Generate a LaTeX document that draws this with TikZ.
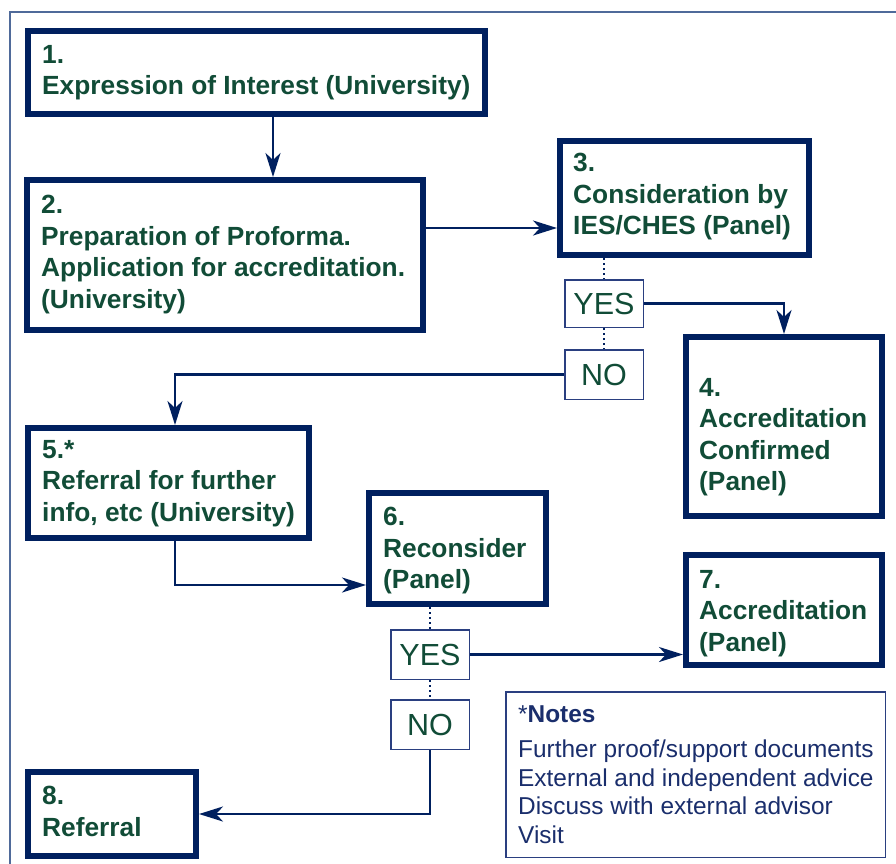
\documentclass[tikz,border=0pt]{standalone}
\usepackage{fontspec}
\setmainfont{Liberation Sans}
\usetikzlibrary{arrows.meta}
\definecolor{navy}{HTML}{00205F}
\definecolor{thinblue}{HTML}{2A3F80}
\definecolor{txtgreen}{HTML}{114C37}
\definecolor{notesblue}{HTML}{1A2E6C}
\definecolor{framecol}{HTML}{4F6A9A}
\begin{document}
\begin{tikzpicture}[x=1pt,y=-1pt,
  bigbox/.style={draw=navy, line width=6pt, rectangle, inner sep=0pt, anchor=north west},
  yn/.style={draw=thinblue, line width=1.5pt, rectangle, inner sep=0pt, anchor=north west,
    minimum width=78.5pt, minimum height=49.5pt, text=txtgreen, font=\fontsize{30.5}{36}\selectfont},
  boxtext/.style={anchor=north west, inner sep=0pt, align=left, text=txtgreen,
    font=\fontsize{26.3}{31.5}\selectfont\bfseries},
  arr/.style={draw=navy, line width=2.5pt, -{Stealth[length=24pt,width=15pt,inset=7pt]}},
  dotline/.style={draw=navy, line width=2pt, dash pattern=on 2pt off 3pt},
  notesbox/.style={draw=thinblue, line width=1.5pt, rectangle, inner sep=0pt, anchor=north west},
  notestext/.style={anchor=north west, inner sep=0pt, align=left, text=notesblue,
    font=\fontsize{24.4}{28.5}\selectfont}]
\useasboundingbox (0,0) rectangle (896,863);
\fill[white] (0,0) rectangle (896,863);
% outer frame
\draw[framecol, line width=1.5pt] (10,870) -- (10,12) -- (900,12);
% boxes
\node[bigbox, minimum width=457pt, minimum height=83pt] (b1) at (25,28) {};
\node[bigbox, minimum width=396pt, minimum height=150pt] (b2) at (24,177) {};
\node[bigbox, minimum width=249pt, minimum height=114pt] (b3) at (557,138) {};
\node[bigbox, minimum width=196pt, minimum height=179pt] (b4) at (683,334) {};
\node[bigbox, minimum width=281pt, minimum height=110pt] (b5) at (25,425) {};
\node[bigbox, minimum width=177pt, minimum height=111pt] (b6) at (366,490) {};
\node[bigbox, minimum width=196pt, minimum height=110pt] (b7) at (683,552) {};
\node[bigbox, minimum width=168pt, minimum height=84pt] (b8) at (25,769) {};
% box texts
\node[boxtext] (t1) at (42,45) {1.\\Expression of Interest (University)};
\node[boxtext] (t2) at (41,195) {2.\\Preparation of Proforma.\\Application for accreditation.\\(University)};
\node[boxtext] (t3) at (573,153) {3.\\Consideration by\\IES/CHES (Panel)};
\node[boxtext] (t4) at (699,378) {4.\\Accreditation\\Confirmed\\(Panel)};
\node[boxtext] (t5) at (42,440) {5.*\\Referral for further\\info, etc (University)};
\node[boxtext] (t6) at (383,507) {6.\\Reconsider\\(Panel)};
\node[boxtext] (t7) at (699,570) {7.\\Accreditation\\(Panel)};
\node[boxtext] (t8) at (42,786) {8.\\Referral};
% yes/no boxes
\node[yn, minimum height=47.5pt] (yes1) at (564,279) {YES};
\node[yn] (no1) at (564,349) {NO};
\node[yn] (yes2) at (390,629) {YES};
\node[yn] (no2) at (390,699) {NO};
% notes
\node[notesbox, minimum width=379.5pt, minimum height=165.5pt] (notes) at (505,691) {};
\node[notestext] (nt) at (518,705) {*\textbf{Notes}};
\node[notestext] (nb) at (518,740) {Further proof/support documents\\External and independent advice\\Discuss with external advisor\\Visit};
% helper coordinates
\coordinate (c273) at (273,0);
\coordinate (c228) at (0,228);
\coordinate (c175) at (175,0);
\coordinate (c585) at (0,585);
% connectors
\draw[arr] (b1.south -| c273) -- (b2.north -| c273);
\draw[arr] (b2.east |- c228) -- (b3.west |- c228);
\draw[dotline] (b3.south -| yes1.north) -- (yes1.north);
\draw[dotline] (yes1.south) -- (no1.north);
\draw[arr] (yes1.east) -| (b4.north);
\draw[arr] (no1.west) -| (b5.north -| c175);
\draw[arr] (b5.south -| c175) |- (b6.west |- c585);
\draw[dotline] (b6.south -| yes2.north) -- (yes2.north);
\draw[dotline] (yes2.south) -- (no2.north);
\draw[arr] (yes2.east) -- (yes2.east -| b7.west);
\draw[arr] (no2.south) |- (b8.east);
\end{tikzpicture}
\end{document}
